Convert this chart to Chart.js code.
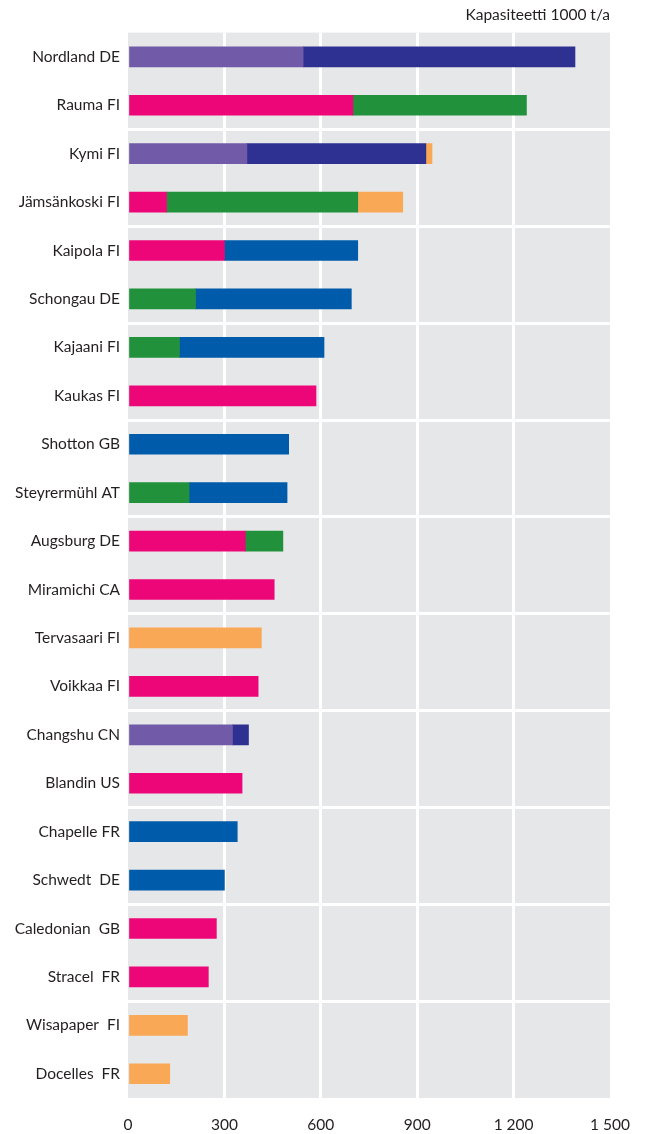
<!DOCTYPE html>
<html>
<head>
<meta charset="utf-8">
<script src="https://cdn.jsdelivr.net/npm/chart.js@4/dist/chart.umd.min.js"></script>
<style>
  html, body { margin: 0; padding: 0; background: #ffffff; }
  #wrap { width: 645px; height: 1134px; position: relative; }
</style>
</head>
<body>
<div id="wrap"><canvas id="c" width="645" height="1134"></canvas></div>
<script>
const categories = [
  "Nordland DE", "Rauma FI", "Kymi FI", "Jämsänkoski FI", "Kaipola FI",
  "Schongau DE", "Kajaani FI", "Kaukas FI", "Shotton GB", "Steyrermühl AT",
  "Augsburg DE", "Miramichi CA", "Tervasaari FI", "Voikkaa FI", "Changshu CN",
  "Blandin US", "Chapelle FR", "Schwedt  DE", "Caledonian  GB", "Stracel  FR",
  "Wisapaper  FI", "Docelles  FR"
];
const purpleValues = [545, null, 370, null, null, null, null, null, null, null, null, null, null, null, 325, null, null, null, null, null, null, null];
const pinkValues   = [null, 700, null, 120, 300, null, null, 585, null, null, 365, 455, null, 405, null, 355, null, null, 275, 250, null, null];
const greenValues  = [null, 540, null, 595, null, 210, 160, null, null, 190, 117, null, null, null, null, null, null, null, null, null, null, null];
const navyValues   = [846, null, 557, null, null, null, null, null, null, null, null, null, null, null, 50, null, null, null, null, null, null, null];
const blueValues   = [null, null, null, null, 415, 485, 450, null, 500, 305, null, null, null, null, null, null, 340, 300, null, null, null, null];
const orangeValues = [null, null, 19, 140, null, null, null, null, null, null, null, null, 415, null, null, null, null, null, null, null, 185, 130];
const xTickValues = [0, 300, 600, 900, 1200, 1500];
const xTickLabels = ["0", "300", "600", "900", "1 200", "1 500"];
const axisTitle = "Kapasiteetti 1000 t/a";

const FONT = "Lato, 'Open Sans', 'DejaVu Sans', sans-serif";
const TEXT = "#231f20";

const bgPlugin = {
  id: 'bg',
  beforeDraw(chart) {
    const { ctx, chartArea: a } = chart;
    ctx.save();
    ctx.fillStyle = '#ffffff';
    ctx.fillRect(0, 0, chart.width, chart.height);
    ctx.fillStyle = '#e6e7e9';
    ctx.fillRect(a.left, a.top, a.right - a.left, a.bottom - a.top);
    ctx.restore();
  }
};

function ds(label, data, color) {
  return { label, data, backgroundColor: color, borderWidth: 0, barThickness: 20 };
}

new Chart(document.getElementById('c'), {
  type: 'bar',
  data: {
    labels: categories,
    datasets: [
      ds('A', purpleValues, '#715aa7'),
      ds('B', pinkValues, '#ec0677'),
      ds('C', greenValues, '#21913b'),
      ds('D', navyValues, '#2e3192'),
      ds('E', blueValues, '#005baa'),
      ds('F', orangeValues, '#f9a855')
    ]
  },
  options: {
    indexAxis: 'y',
    responsive: false,
    animation: false,
    layout: { padding: { left: 0, right: 35, top: 0, bottom: 0 } },
    plugins: {
      legend: { display: false },
      tooltip: { enabled: false },
      title: {
        display: true,
        text: axisTitle,
        align: 'end',
        color: TEXT,
        font: { family: FONT, size: 15.5, weight: 'normal' },
        padding: { top: 6, bottom: 8 }
      }
    },
    scales: {
      x: {
        stacked: true,
        min: 0,
        max: 1500,
        position: 'bottom',
        border: { display: false },
        afterBuildTicks(scale) { scale.ticks = xTickValues.map(v => ({ value: v })); },
        afterFit(scale) { scale.height = 36; scale.paddingRight = 0; scale.paddingLeft = 0; },
        ticks: {
          color: TEXT,
          font: { family: FONT, size: 15.5 },
          padding: 18,
          maxRotation: 0,
          callback(v) { const i = xTickValues.indexOf(v); return i >= 0 ? xTickLabels[i] : ''; }
        },
        grid: {
          drawTicks: false,
          lineWidth: 3,
          color(ctx) {
            const v = ctx.tick ? ctx.tick.value : null;
            return (v === 0 || v === 1500) ? 'rgba(0,0,0,0)' : '#ffffff';
          }
        }
      },
      y: {
        stacked: true,
        border: { display: false },
        afterFit(scale) { scale.width = 128; },
        ticks: {
          color: TEXT,
          font: { family: FONT, size: 15.5 },
          padding: 8
        },
        grid: {
          offset: true,
          drawTicks: false,
          lineWidth: 3,
          color(ctx) {
            const i = ctx.index;
            return (i > 0 && i < categories.length && i % 2 === 0) ? '#ffffff' : 'rgba(0,0,0,0)';
          }
        }
      }
    }
  },
  plugins: [bgPlugin]
});
</script>
</body>
</html>
